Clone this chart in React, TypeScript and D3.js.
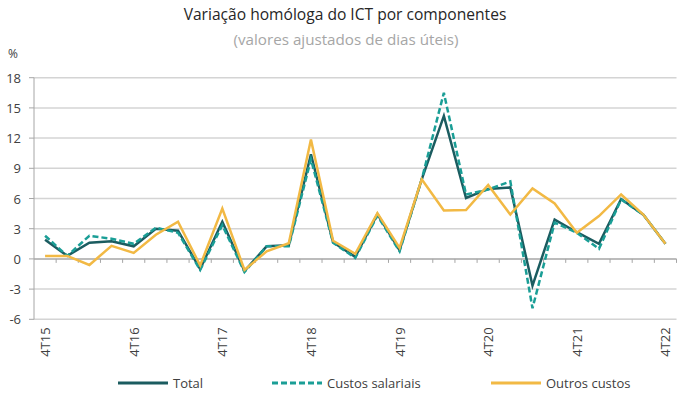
import * as d3 from "d3";

const quarters = [
  "4T15", "1T16", "2T16", "3T16", "4T16", "1T17", "2T17", "3T17", "4T17",
  "1T18", "2T18", "3T18", "4T18", "1T19", "2T19", "3T19", "4T19",
  "1T20", "2T20", "3T20", "4T20", "1T21", "2T21", "3T21", "4T21",
  "1T22", "2T22", "3T22", "4T22",
];
const total = [
  1.9, 0.3, 1.6, 1.75, 1.25, 3.0, 2.8, -1.0, 3.7, -1.2, 1.25, 1.35, 10.4, 1.65,
  0.2, 4.45, 0.85, 7.9, 14.2, 6.05, 6.95, 7.1, -2.65, 3.9, 2.65, 1.5, 5.95, 4.4, 1.5,
];
const salariais = [
  2.3, 0.3, 2.3, 2.0, 1.5, 3.1, 2.6, -1.1, 3.35, -1.3, 1.25, 1.25, 9.9, 1.6,
  0.1, 4.3, 0.75, 7.9, 16.5, 6.4, 6.9, 7.7, -4.9, 3.6, 2.6, 1.0, 5.9, 4.4, 1.5,
];
const outros = [
  0.3, 0.3, -0.6, 1.3, 0.6, 2.4, 3.7, -0.65, 5.0, -1.1, 0.75, 1.55, 11.85, 1.8,
  0.5, 4.55, 1.1, 7.9, 4.8, 4.85, 7.35, 4.4, 7.0, 5.5, 2.6, 4.25, 6.4, 4.4, 1.5,
];
const yTicks = [-6, -3, 0, 3, 6, 9, 12, 15, 18];

const font = "Open Sans, Noto Sans, sans-serif";
const textColor = "#404040";

export default function App() {
  const width = 680;
  const height = 394;
  const left = 34;
  const right = 676.5;
  const top = 77.7;
  const bottom = 319.3;

  const x = d3.scaleBand<string>().domain(quarters).range([left, right]);
  const cx = (q: string) => (x(q) as number) + x.bandwidth() / 2;
  const y = d3.scaleLinear().domain([-6, 18]).range([bottom, top]);

  const line = d3
    .line<number>()
    .x((_, i) => cx(quarters[i]))
    .y((d) => y(d));

  const series = [
    { name: "Total", values: total, color: "#1b5c60", dash: "" },
    { name: "Custos salariais", values: salariais, color: "#1a9e96", dash: "6,3" },
    { name: "Outros custos", values: outros, color: "#f2b944", dash: "" },
  ];
  const legendX = [118, 272, 491];

  return (
    <svg
      width={width}
      height={height}
      style={{ position: "absolute", left: 0, top: 0, background: "#fff" }}
    >
      <text x={345} y={20} textAnchor="middle" fontFamily={font} fontSize={15.6} fill="#262626">
        Variação homóloga do ICT por componentes
      </text>
      <text x={346} y={45} textAnchor="middle" fontFamily={font} fontSize={15.2} fill="#a6a6a6">
        (valores ajustados de dias úteis)
      </text>
      <text x={8} y={58} fontFamily={font} fontSize={12} fill={textColor}>
        %
      </text>

      {/* grelha */}
      {yTicks.map((t) => (
        <g key={t}>
          {t !== 0 && (
            <line x1={left} x2={right} y1={y(t)} y2={y(t)} stroke="#d4d4d4" strokeWidth={1.5} />
          )}
          <line x1={left - 5} x2={left} y1={y(t)} y2={y(t)} stroke="#a6a6a6" strokeWidth={1} />
          <text
            x={21}
            y={y(t)}
            textAnchor="end"
            dominantBaseline="central"
            fontFamily={font}
            fontSize={13}
            fill={textColor}
          >
            {t}
          </text>
        </g>
      ))}
      <line x1={left} x2={left} y1={top} y2={bottom} stroke="#a6a6a6" strokeWidth={1} />
      <line x1={left} x2={right} y1={y(0)} y2={y(0)} stroke="#a6a6a6" strokeWidth={1.5} />
      {quarters.map((q) => (
        <line
          key={q}
          x1={(x(q) as number) + x.bandwidth()}
          x2={(x(q) as number) + x.bandwidth()}
          y1={y(0)}
          y2={y(0) + 4}
          stroke="#a6a6a6"
          strokeWidth={1}
        />
      ))}

      {/* rótulos do eixo x */}
      {quarters.map((q, i) =>
        i % 4 === 0 ? (
          <text
            key={q}
            transform={`translate(${cx(q)}, ${bottom + 8}) rotate(-90)`}
            textAnchor="end"
            dominantBaseline="central"
            fontFamily={font}
            fontSize={13}
            fill={textColor}
          >
            {q}
          </text>
        ) : null
      )}

      {/* séries */}
      {series.map((s) => (
        <path
          key={s.name}
          d={line(s.values) || ""}
          fill="none"
          stroke={s.color}
          strokeWidth={2.5}
          strokeDasharray={s.dash}
          strokeLinejoin="miter"
        />
      ))}

      {/* legenda */}
      {series.map((s, i) => (
        <g key={s.name} transform={`translate(${legendX[i]}, 383)`}>
          <line x1={0} x2={50} y1={0} y2={0} stroke={s.color} strokeWidth={3} strokeDasharray={s.dash} />
          <text x={55} y={0} dominantBaseline="central" fontFamily={font} fontSize={13} fill={textColor}>
            {s.name}
          </text>
        </g>
      ))}
    </svg>
  );
}
